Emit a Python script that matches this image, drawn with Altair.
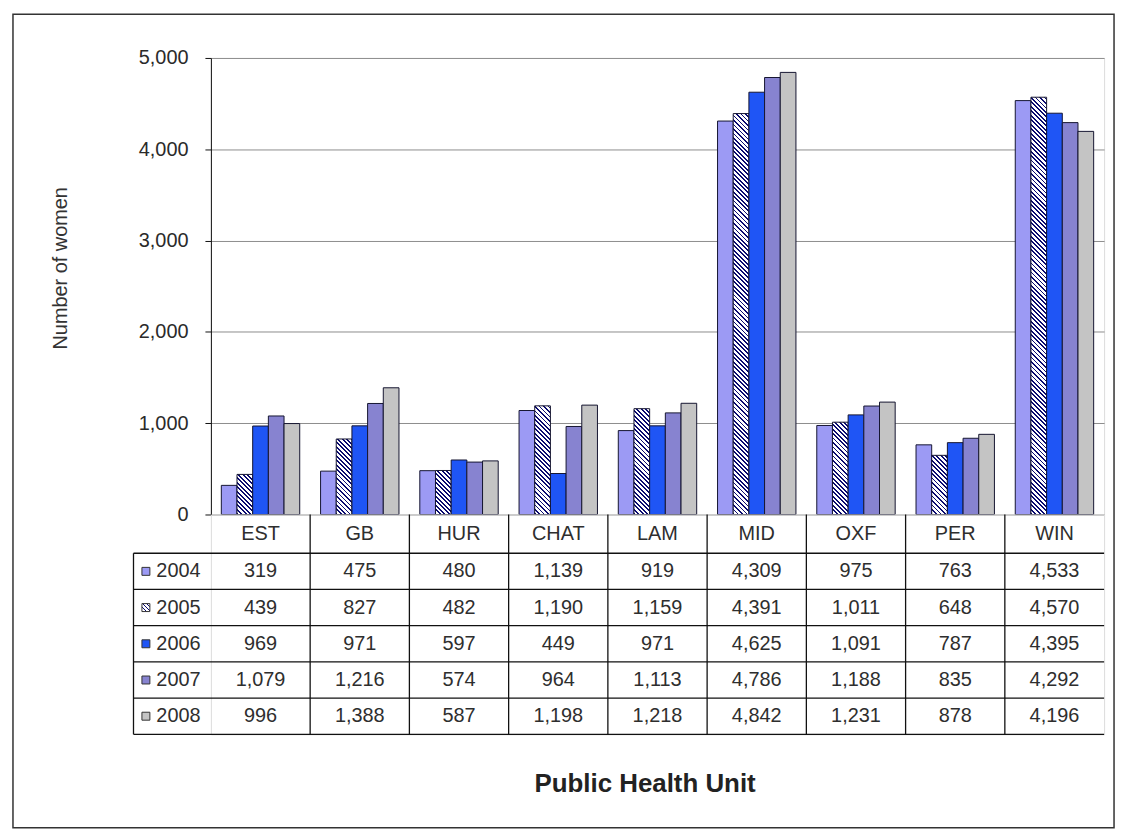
import altair as alt

# ---------------- data ----------------
categories = ["EST", "GB", "HUR", "CHAT", "LAM", "MID", "OXF", "PER", "WIN"]
years = ["2004", "2005", "2006", "2007", "2008"]
v2004 = [319, 475, 480, 1139, 919, 4309, 975, 763, 4533]
v2005 = [439, 827, 482, 1190, 1159, 4391, 1011, 648, 4570]
v2006 = [969, 971, 597, 449, 971, 4625, 1091, 787, 4395]
v2007 = [1079, 1216, 574, 964, 1113, 4786, 1188, 835, 4292]
v2008 = [996, 1388, 587, 1198, 1218, 4842, 1231, 878, 4196]
series = [v2004, v2005, v2006, v2007, v2008]
y_ticks = [0, 1000, 2000, 3000, 4000, 5000]

# ---------------- style ----------------
FONT = "Liberation Sans"
PLOT_W, PLOT_H = 898, 459
TABLE_H = 221
YMAX = 5000
PAD_INNER = 0.21
HEADER = 1.07          # header row height in table row units
LEG_LEFT = -0.78       # legend column left edge in category units
NAVY = "#0b0b70"
solid = {"2004": "#9c9af4", "2006": "#1f55f5", "2007": "#8783d0", "2008": "#c4c4c4"}


def stripes(w, h, period=4.5, dark=0.4):
    """diagonal stripe pattern as a bounding-box linear gradient"""
    L = w + h
    t = L / (w * w + h * h)
    stops = []
    k = 0
    while k * period < L:
        a = k * period / L
        b = min((k + dark) * period / L, 1.0)
        c = min((k + 1) * period / L, 1.0)
        stops += [{"offset": a, "color": NAVY}, {"offset": b, "color": NAVY},
                  {"offset": b, "color": "#ffffff"}, {"offset": c, "color": "#ffffff"}]
        k += 1
    return {"gradient": "linear", "x1": 0, "y1": 1, "x2": t * w, "y2": 1 - t * h,
            "stops": stops}


bar_w = PLOT_W / len(categories) * (1 - PAD_INNER) / len(years)

bar_records = []
for yr, vals in zip(years, series):
    for cat, v in zip(categories, vals):
        paint = stripes(bar_w, v / YMAX * PLOT_H) if yr == "2005" else solid[yr]
        bar_records.append({"cat": cat, "year": yr, "value": v, "paint": paint})

# ---------------- bar chart ----------------
bars = alt.Chart(alt.Data(values=bar_records)).mark_bar(
    stroke="#151530", strokeWidth=1
).encode(
    x=alt.X("cat:N", sort=categories, axis=None,
            scale=alt.Scale(paddingInner=PAD_INNER, paddingOuter=PAD_INNER / 2)),
    xOffset=alt.XOffset("year:N", sort=years,
                        scale=alt.Scale(paddingInner=0, paddingOuter=0)),
    y=alt.Y("value:Q", stack=None,
            scale=alt.Scale(domain=[0, YMAX], nice=False),
            axis=alt.Axis(values=y_ticks, format=",.0f", title="Number of women",
                          titleFontSize=20, titleFontWeight="normal", titleColor="#333",
                          titleX=-151, titleY=211, titleAngle=270, titleAlign="center",
                          titleBaseline="middle",
                          labelFontSize=20, labelColor="#2a2a2a", labelPadding=17,
                          tickSize=6, tickColor="#111", domainColor="#111",
                          grid=True, gridColor="#8c8c8c", gridWidth=1)),
    fill=alt.Fill("paint:N", scale=None),
)

frame = alt.Chart(alt.Data(values=[{"k": 1}])).mark_rect(
    filled=False, stroke="#333", strokeWidth=1.5
).encode(
    x=alt.value(-199), x2=alt.value(908), y=alt.value(-44), y2=alt.value(774)
)

top = alt.layer(frame, bars).properties(width=PLOT_W, height=PLOT_H)

# ---------------- data table ----------------
n_cat, n_yr = len(categories), len(years)
cell_records = []
for i, cat in enumerate(categories):
    cell_records.append({"xc": i + 0.5, "yc": -HEADER / 2, "label": cat})
for j, vals in enumerate(series):
    for i, v in enumerate(vals):
        cell_records.append({"xc": i + 0.5, "yc": j + 0.5, "label": f"{v:,}"})

legend_records = []
for j, yr in enumerate(years):
    paint = stripes(8, 8, period=4.0, dark=0.3) if yr == "2005" else solid[yr]
    legend_records.append({"xs": -0.655, "xt": -0.55, "yc": j + 0.5, "label": yr,
                           "paint": paint})

rule_records = []
for j in range(n_yr + 1):
    rule_records.append({"x": LEG_LEFT, "x2": n_cat, "y": j, "y2": j})
for i in range(1, n_cat):
    rule_records.append({"x": i, "x2": i, "y": -HEADER, "y2": n_yr})
rule_records.append({"x": LEG_LEFT, "x2": LEG_LEFT, "y": 0, "y2": n_yr})

xs = alt.Scale(domain=[0, n_cat], nice=False, zero=False)
ys = alt.Scale(domain=[-HEADER, n_yr], nice=False, zero=False, reverse=True)
xaxis = alt.Axis(title="Public Health Unit", labels=False, ticks=False, domain=False,
                 grid=False, titleFontSize=26, titleFontWeight="bold", titleColor="#222",
                 titleX=436, titleY=49, titleBaseline="middle")

rules = alt.Chart(alt.Data(values=rule_records)).mark_rule(
    color="#111", strokeWidth=1.3
).encode(
    x=alt.X("x:Q", scale=xs, axis=xaxis), x2="x2:Q",
    y=alt.Y("y:Q", scale=ys, axis=None), y2="y2:Q",
)

cells = alt.Chart(alt.Data(values=cell_records)).mark_text(
    font=FONT, fontSize=20, color="#2e2e2e", align="center", baseline="middle"
).encode(
    x=alt.X("xc:Q", scale=xs, axis=xaxis),
    y=alt.Y("yc:Q", scale=ys, axis=None),
    text="label:N",
)

swatches = alt.Chart(alt.Data(values=legend_records)).mark_square(
    size=64, stroke="#333", strokeWidth=1, opacity=1
).encode(
    x=alt.X("xs:Q", scale=xs, axis=xaxis),
    y=alt.Y("yc:Q", scale=ys, axis=None),
    fill=alt.Fill("paint:N", scale=None),
)

leg_text = alt.Chart(alt.Data(values=legend_records)).mark_text(
    font=FONT, fontSize=20, color="#2e2e2e", align="left", baseline="middle"
).encode(
    x=alt.X("xt:Q", scale=xs, axis=xaxis),
    y=alt.Y("yc:Q", scale=ys, axis=None),
    text="label:N",
)

table = alt.layer(rules, cells, swatches, leg_text).properties(width=PLOT_W, height=TABLE_H)

chart = alt.vconcat(top, table, spacing=0, bounds="flush").properties(
    padding={"left": 3, "top": 2, "right": 4, "bottom": 4}
).configure_view(
    stroke="#111", strokeWidth=1.2
).configure_axis(
    labelFont=FONT, titleFont=FONT
).configure(background="white")

chart.save("out.html", embed_options={"renderer": "svg", "actions": False})
